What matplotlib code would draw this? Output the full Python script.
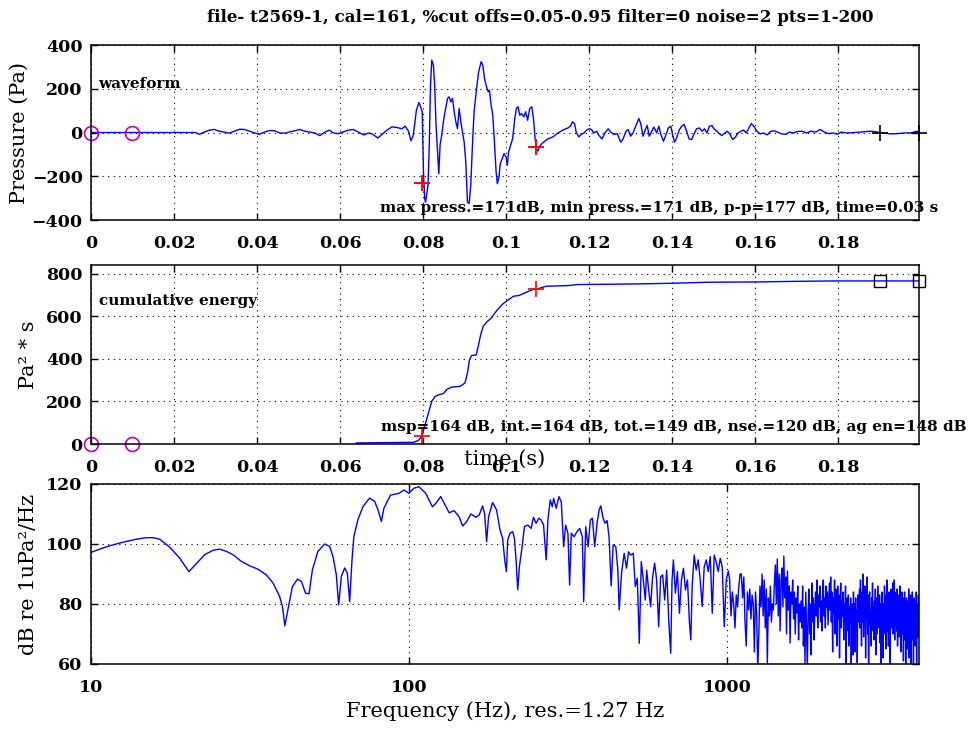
import numpy as np
import matplotlib
matplotlib.use("Agg")
from matplotlib import pyplot as plt
from matplotlib.ticker import FixedLocator, FuncFormatter, NullLocator

plt.rcParams['font.family'] = ['DejaVu Serif']
plt.rcParams['font.weight'] = 'bold'

# --- waveform (s, Pa) ---
wave_t = [
    0, 0.0251, 0.0261, 0.0273, 0.0285, 0.0297, 0.0309, 0.0321, 0.0333, 0.0345,
    0.0358, 0.0370, 0.0382, 0.0394, 0.0406, 0.0418, 0.0430, 0.0442, 0.0455, 0.0467,
    0.0479, 0.0491, 0.0503, 0.0515, 0.0527, 0.0539, 0.0551, 0.0564, 0.0574, 0.0584,
    0.0596, 0.0608, 0.0620, 0.0632, 0.0644, 0.0657, 0.0669, 0.0679, 0.0691, 0.0701,
    0.0713, 0.0725, 0.0737, 0.0749, 0.0757,
    0.0765, 0.0771, 0.0776, 0.0780, 0.0784, 0.0790, 0.0794, 0.0798, 0.0801,
    0.0804, 0.0806, 0.0812, 0.0815, 0.0818, 0.0821, 0.0825, 0.0828, 0.0831, 0.0834,
    0.0838, 0.0841, 0.0845, 0.0849, 0.0853, 0.0859, 0.0863, 0.0867, 0.0871, 0.0875,
    0.0879, 0.0883, 0.0887, 0.0891, 0.0895, 0.0899, 0.0903, 0.0907, 0.0911, 0.0915,
    0.0919, 0.0923, 0.0929, 0.0934, 0.0940, 0.0944, 0.0948, 0.0953, 0.0957, 0.0960,
    0.0964, 0.0968, 0.0972, 0.0976, 0.0979, 0.0983, 0.0986, 0.0991, 0.0995, 0.1000,
    0.1003, 0.1006, 0.1011, 0.1016, 0.1021, 0.1025, 0.1029, 0.1033, 0.1037, 0.1043,
    0.1047, 0.1052, 0.1057, 0.1062, 0.1066, 0.1070, 0.1073, 0.1077, 0.1081, 0.1087,
    0.1093, 0.1101, 0.1113, 0.1125, 0.1137, 0.1149, 0.1155, 0.1160, 0.1165, 0.1169,
    0.1175, 0.1181, 0.1188, 0.1194, 0.1200, 0.1206, 0.1211, 0.1218, 0.1224, 0.1231,
    0.1238, 0.1246, 0.1252, 0.1260, 0.1268, 0.1276, 0.1282, 0.1289, 0.1294, 0.1300,
    0.1306, 0.1314, 0.1320, 0.1325, 0.1330, 0.1335, 0.1340, 0.1345, 0.1351, 0.1356,
    0.1363, 0.1368, 0.1373, 0.1379, 0.1384, 0.1391, 0.1397, 0.1401, 0.1406, 0.1411,
    0.1417, 0.1423, 0.1429, 0.1435, 0.1441, 0.1447, 0.1454, 0.1459, 0.1466, 0.1472,
    0.1478, 0.1484, 0.1490, 0.1496, 0.1501, 0.1508, 0.1514, 0.1520, 0.1527, 0.1533,
    0.1539, 0.1546, 0.1553, 0.1559, 0.1566, 0.1572, 0.1579, 0.1585, 0.1591, 0.1598,
    0.1604, 0.1612, 0.1620, 0.1629, 0.1637, 0.1645, 0.1654, 0.1664, 0.1674, 0.1683,
    0.1693, 0.1703, 0.1713, 0.1724, 0.1735, 0.1746, 0.1757, 0.1767, 0.1777, 0.1788,
    0.1798, 0.1807, 0.1822, 0.1838, 0.1854, 0.1870, 0.1882, 0.1894, 0.1910, 0.1927,
    0.1943, 0.1959, 0.1975, 0.1987, 0.1995,
]
wave_p = [
    0, 0, -8, 2, 11, 14, 6, 2, -3, 6,
    15, 14, 6, -2, -8, 2, 9, 8, -2, -3,
    3, 8, 14, 6, 2, -2, -14, 2, 11, -2,
    -5, 3, 11, 14, 2, -11, -2, -8, -25, -9,
    11, 26, 23, 17, 29,
    6, -38, -15, 40, 102, 137, 118, 95, -180,
    -302, -318, -241, -58, 217, 331, 308, 217, 49, -58,
    -188, -58, -12, 49, 95, 156, 163, 140, 156, 95,
    49, 18, 110, 49, 3, -43, -134, -318, -325, -241,
    -58, 95, 201, 278, 324, 308, 247, 209, 186, 194,
    125, 79, -43, -180, -234, -203, -142, -119, -96, -111,
    -150, -89, -58, -27, 64, 110, 118, 79, 87, 72,
    95, 56, 110, 118, 64, -27, -73, -85, -62, -50,
    -40, -29, -20, -2, 11, 21, 29, 49, 41, 2,
    -20, -9, -2, 11, 17, 14, -2, 6, -14, -29,
    -2, 17, 2, -9, -5, -44, -29, 6, 14, -17,
    -2, 37, 64, 37, -17, 11, 32, -17, 6, 25,
    -2, 29, -9, -40, -17, 21, 29, -9, -44, -25,
    11, 29, 37, 6, -29, -32, -2, 17, 21, 6,
    17, -2, 29, 32, 17, 6, -6, -14, -2, 6,
    -6, -32, -20, -2, 6, 11, -2, 21, 41, 26,
    6, -6, -2, -11, 5, 8, 2, -6, -8, 2,
    -2, 5, 6, -2, 6, 2, 14, 2, -5, -2,
    -8, 2, -2, 0, 2, 5, 6, 2, -3, -6,
    -5, -2, -2, 5, 5,
]
t_end = 0.1995

# window / cut-off markers
noise_t = [0, 0.01]
cut_t = [0.0797, 0.1072]
cut_p = [-233, -68]
end_t = [0.19, t_end]

# --- cumulative energy (Pa^2 s) ---
energy_t = [
    0.0639, 0.0777, 0.0789, 0.0797, 0.0805, 0.0813, 0.0821, 0.0829, 0.0837, 0.0849,
    0.0857, 0.0869, 0.0889, 0.0901, 0.0907, 0.0912, 0.0917, 0.0928, 0.0933, 0.0939,
    0.0945, 0.0955, 0.0965, 0.0973, 0.0981, 0.0992, 0.1006, 0.1018, 0.1032, 0.1048,
    0.1064, 0.1080, 0.1096, 0.1148, 0.1172, 0.1228, 0.1316, 0.1399, 0.1489, 0.1597,
    0.1693, 0.1789, 0.1995,
]
energy = [
    5, 8, 17, 36, 91, 146, 201, 224, 231, 237,
    256, 268, 271, 287, 334, 397, 416, 419, 460, 515,
    554, 577, 593, 616, 635, 659, 679, 695, 699, 713,
    726, 732, 742, 745, 750, 751, 753, 756, 761, 762,
    765, 767, 767,
]
cut_e = [36, 729]
end_e = [765, 765]

# --- spectrum (Hz, dB re 1uPa^2/Hz) ---
spec_f = [
    10, 10.65, 11.45, 12.61, 13.89, 14.93, 15.67, 16.44, 17.66, 19.0,
    20.33, 21.43, 22.76, 24.2, 25.4, 26.7, 28.0, 29.7, 31.6, 33.5,
    35.6, 37.4, 39.2, 40.0, 40.7, 41.6, 43.0, 44.6, 45.9, 47.3,
    48.5, 49.7, 51.7, 54.3, 56.3, 57.7, 59.1, 60.1, 61.3, 62.8,
    64.0, 65.1, 66.2, 67.1, 69.1, 71.7, 75.2, 78.0, 79.9, 81.9,
    83.4, 87.5, 93.0, 96.4, 100.0, 103.7, 107.5, 112.9, 118.5, 121.4,
    125.9, 129.0, 133.8, 138.7, 143.8, 147.4, 151.7, 156.6, 162.4, 166.4,
    170.4, 172.9, 175.5, 178.0, 183.3, 188.7, 193.3, 197.1, 200.0, 202.5,
    204.4, 207.9, 212.0, 214.6, 217.2, 219.8, 222.5, 226.9, 230.8, 236.4,
    242.2, 246.4, 251.2, 256.1, 260.5, 265.0, 270.2, 273.5, 278.2, 282.3,
    285.0, 290.6, 296.3, 301.3, 306.5, 311.0, 316.2, 320.1, 324.0, 330.4,
    337.6, 344.2, 351.0, 354.4, 359.6, 365.8, 372.0, 377.5, 383.9, 390.5,
    396.2, 401.1, 407.9, 413.9, 420.0, 426.2, 432.4, 438.7, 447.3, 453.9,
    458.3, 466.1, 475.2, 483.4, 490.5, 497.7, 507.5, 515.0, 522.5, 530.2,
    537.9, 545.8, 553.8, 559.2, 567.4, 575.4, 583.9, 592.4, 601.1, 610.0,
    618.9, 628.0, 637.2, 646.5, 656.0, 665.7, 672.1, 678.7, 688.6, 698.7,
    708.9, 719.4, 729.9, 740.6, 751.5, 762.5, 769.9, 777.4, 788.8, 800.3,
    812.1, 824.0, 836.1, 848.3, 860.8, 873.4, 886.2, 899.2, 912.0, 925.4,
    939.0, 952.6, 966.7, 980.8, 995.2,
]
spec_db = [
    97.2, 98.3, 99.4, 100.6, 101.6, 102.1, 102.1, 101.6, 99.0, 95.3,
    90.8, 93.4, 96.4, 97.9, 98.3, 97.5, 96.4, 94.2, 92.7, 91.6,
    89.7, 86.9, 82.5, 79.2, 72.7, 78.0, 85.8, 88.3, 87.5, 83.6,
    83.4, 91.4, 97.5, 100.0, 99.2, 95.8, 89.7, 79.7, 89.2, 92.0,
    90.3, 80.8, 94.7, 102.5, 108.1, 112.5, 115.3, 114.2, 111.4, 107.5,
    111.9, 116.3, 116.9, 118.0, 116.9, 118.6, 119.1, 116.9, 112.4, 113.5,
    115.8, 113.6, 110.4, 111.1, 109.1, 106.0, 107.4, 110.0, 108.9, 109.7,
    112.7, 110.2, 100.8, 109.1, 113.8, 111.3, 104.7, 101.9, 94.7, 90.8,
    101.3, 103.6, 104.1, 101.9, 94.7, 84.7, 92.4, 99.1, 105.8, 106.3,
    105.2, 108.9, 106.9, 108.6, 108.0, 106.3, 94.7, 108.0, 114.7, 112.4,
    115.2, 111.9, 115.8, 114.1, 99.1, 106.3, 103.6, 86.3, 103.6, 102.4,
    104.1, 105.2, 102.4, 80.8, 105.8, 99.1, 108.0, 108.6, 99.1, 106.9,
    111.3, 112.7, 108.6, 106.9, 107.8, 101.9, 86.0, 99.7, 99.1, 91.3,
    78.0, 90.2, 96.9, 91.9, 97.4, 96.3, 96.9, 85.8, 88.6, 66.9,
    94.1, 88.0, 81.3, 91.3, 84.7, 79.1, 89.1, 93.6, 88.0, 72.4,
    89.1, 89.7, 81.3, 91.3, 74.7, 63.6, 88.0, 94.7, 83.6, 90.8,
    76.9, 88.0, 91.9, 84.7, 88.0, 73.6, 68.0, 85.8, 96.3, 91.3,
    94.7, 88.0, 79.1, 92.4, 94.7, 90.8, 95.8, 76.9, 96.3, 94.1,
    90.8, 95.2, 92.4, 72.4, 88.0,
]
# above 1 kHz, every 10 Hz bin
hi_f = np.arange(1010, 4011, 10)
hi_db = [
    91, 88, 76, 84, 80, 72, 83, 79, 86, 90,
    90, 82, 89, 74, 66, 84, 78, 85, 75, 83,
    80, 64, 84, 77, 58, 70, 86, 79, 90, 76,
    88, 72, 85, 60, 82, 76, 86, 74, 80, 78,
    87, 93, 80, 95, 76, 90, 71, 88, 92, 79,
    96, 82, 89, 70, 91, 78, 86, 67, 84, 80,
    88, 75, 84, 70, 82, 77, 86, 68, 80, 74,
    81, 72, 86, 66, 79, 60, 84, 71, 58, 77,
    85, 70, 80, 63, 87, 74, 82, 68, 78, 84,
    76, 88, 72, 83, 79, 86, 74, 81, 71, 85,
    88, 76, 82, 72, 86, 79, 84, 73, 80, 87,
    78, 89, 74, 84, 64, 82, 77, 88, 70, 85,
    80, 66, 86, 75, 83, 62, 79, 87, 72, 81,
    76, 84, 68, 80, 74, 86, 60, 78, 82, 71,
    83, 66, 79, 74, 82, 58, 76, 80, 63, 84,
    75, 80, 64, 82, 71, 78, 60, 83, 74, 79,
    85, 72, 88, 78, 66, 84, 74, 90, 69, 82,
    77, 86, 62, 80, 75, 89, 70, 83, 58, 79,
    84, 73, 78, 66, 82, 76, 87, 71, 79, 68,
    81, 74, 85, 63, 77, 82, 70, 86, 75, 79,
    72, 83, 67, 80, 58, 76, 84, 73, 78, 62,
    80, 74, 86, 70, 78, 65, 83, 76, 88, 71,
    79, 66, 84, 75, 81, 60, 77, 85, 72, 80,
    74, 87, 70, 82, 76, 88, 68, 80, 73, 84,
    77, 71, 85, 66, 81, 75, 83, 69, 79, 86,
    72, 80, 64, 78, 84, 70, 76, 82, 61, 79,
    74, 84, 68, 80, 58, 76, 82, 71, 78, 65,
    81, 73, 85, 62, 77, 80, 70, 83, 59, 76,
    79, 68, 84, 74, 80, 60, 77, 82, 72, 78,
    66, 81, 75, 84, 58, 78, 73, 80, 69, 83,
    76,
]
f_max = 4020

title = "file- t2569-1, cal=161, %cut offs=0.05-0.95 filter=0 noise=2 pts=1-200"
wave_note = "max press.=171dB, min press.=171 dB, p-p=177 dB, time=0.03 s"
energy_note = "msp=164 dB, int.=164 dB, tot.=149 dB, nse.=120 dB, ag en=148 dB"

TICK = 12.5
LABEL = 15
NOTE = 11


def style(ax):
    ax.tick_params(direction='in', top=True, right=True, length=5, width=1,
                   labelsize=TICK)
    ax.tick_params(axis='x', pad=11)
    ax.tick_params(axis='y', pad=6)
    ax.grid(True, color='k', linestyle=(0, (1, 4)), linewidth=0.8)
    for s in ax.spines.values():
        s.set_linewidth(1.1)


fmt = FuncFormatter(lambda v, p: f"{v:g}")

fig = plt.figure(figsize=(9.71, 7.31), dpi=100)
ax1 = fig.add_axes([0.0937, 0.699, 0.8528, 0.2394])
ax2 = fig.add_axes([0.0937, 0.3926, 0.8528, 0.2449])
ax3 = fig.add_axes([0.0937, 0.0917, 0.8528, 0.2462])

# waveform
ax1.plot(wave_t, wave_p, color='b', lw=1.0)
ax1.plot(noise_t, [0, 0], 'o', color='m', mfc='none', ms=10, mew=1.2, clip_on=False)
ax1.plot(cut_t, cut_p, '+', color='r', ms=12, mew=1.4, clip_on=False)
ax1.plot(end_t, [0, 0], '+', color='k', ms=12, mew=1.2, clip_on=False)
ax1.set_xlim(0, t_end)
ax1.set_ylim(-400, 400)
ax1.set_xticks(np.arange(0, 0.19, 0.02))
ax1.set_yticks([-400, -200, 0, 200, 400])
ax1.xaxis.set_major_formatter(fmt)
style(ax1)
ax1.set_ylabel("Pressure (Pa)", fontsize=LABEL, va='center')
ax1.yaxis.set_label_coords(-0.086, 0.5)
ax1.text(0.009, 0.78, "waveform", transform=ax1.transAxes, fontsize=NOTE,
         va='center')
ax1.text(0.349, 0.069, wave_note, transform=ax1.transAxes, fontsize=NOTE,
         va='center', clip_on=False)

# cumulative energy
ax2.plot(energy_t, energy, color='b', lw=1.0)
ax2.plot(noise_t, [0, 0], 'o', color='m', mfc='none', ms=10, mew=1.2, clip_on=False)
ax2.plot(cut_t, cut_e, '+', color='r', ms=12, mew=1.2, clip_on=False)
ax2.plot(end_t, end_e, 's', color='k', mfc='none', ms=9, mew=1.0, clip_on=False)
ax2.set_xlim(0, t_end)
ax2.set_ylim(0, 842)
ax2.set_xticks(np.arange(0, 0.19, 0.02))
ax2.set_yticks([0, 200, 400, 600, 800])
ax2.xaxis.set_major_formatter(fmt)
style(ax2)
ax2.set_ylabel("Pa² * s", fontsize=LABEL, va='center')
ax2.yaxis.set_label_coords(-0.076, 0.5)
ax2.set_xlabel("time (s)", fontsize=LABEL, va='top')
ax2.xaxis.set_label_coords(0.5, -0.035)
ax2.text(0.01, 0.80, "cumulative energy", transform=ax2.transAxes,
         fontsize=NOTE, va='center')
ax2.text(0.35, 0.095, energy_note, transform=ax2.transAxes, fontsize=NOTE,
         va='center', clip_on=False)

# spectrum
freq = np.concatenate([spec_f, hi_f])
level = np.concatenate([spec_db, hi_db])
ax3.semilogx(freq, level, color='b', lw=1.0)
ax3.set_xlim(10, f_max)
ax3.set_ylim(60, 120)
ax3.xaxis.set_major_locator(FixedLocator([10, 100, 1000]))
ax3.xaxis.set_minor_locator(NullLocator())
ax3.xaxis.set_major_formatter(fmt)
ax3.set_yticks([60, 80, 100, 120])
style(ax3)
ax3.set_ylabel("dB re 1uPa²/Hz", fontsize=LABEL, va='center')
ax3.yaxis.set_label_coords(-0.076, 0.5)
ax3.set_xlabel("Frequency (Hz), res.=1.27 Hz", fontsize=LABEL)

fig.text(0.556, 1 - 17 / 731, title, ha='center', va='center', fontsize=12.1)

fig.savefig("out.png", dpi=100)
